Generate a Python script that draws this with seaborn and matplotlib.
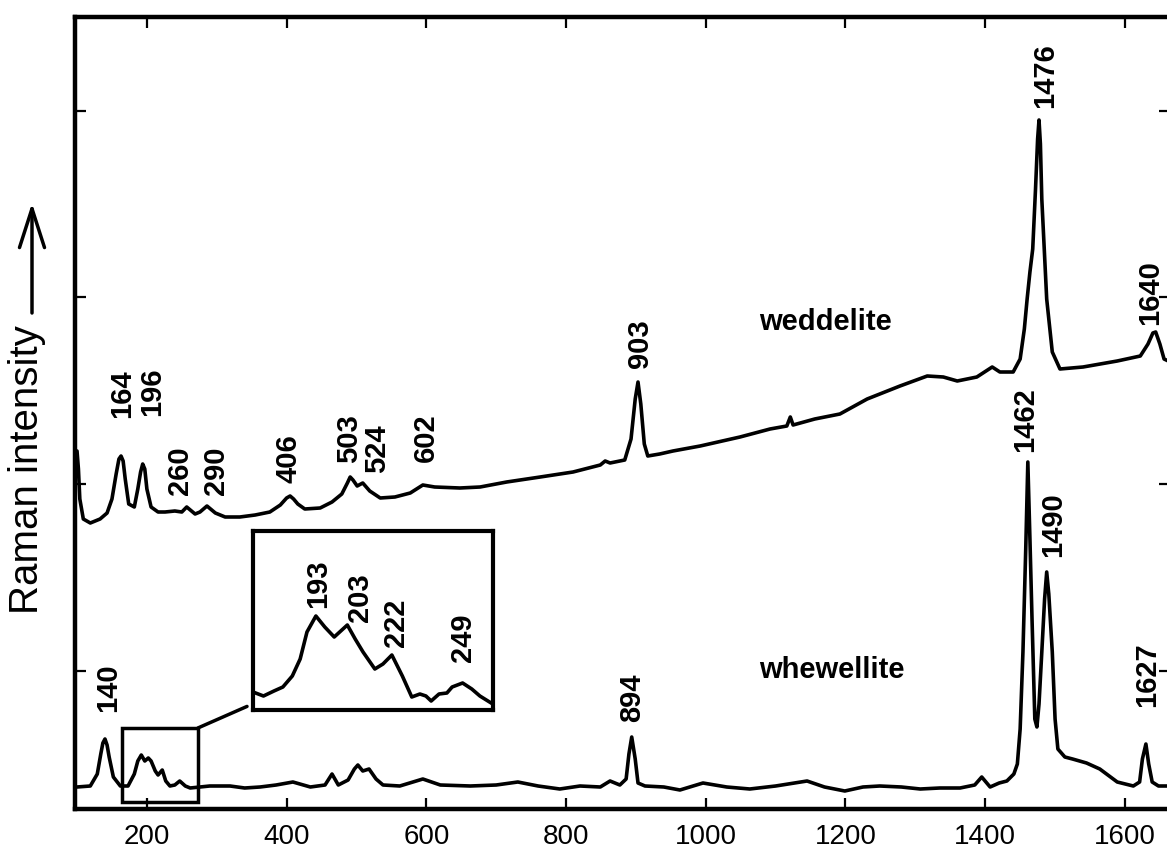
import matplotlib
matplotlib.use("Agg")
import matplotlib.pyplot as plt
import seaborn as sns
import pandas as pd
from matplotlib.patches import Rectangle, ConnectionPatch

# ---------------- data ----------------
wed_wn = [100, 102, 104, 109, 119, 133, 143, 150, 156, 160, 163, 166, 169, 174, 182, 187,
          191, 194, 197, 200, 206, 216, 226, 240, 250, 257, 269, 276, 286, 298, 312, 333,
          355, 376, 391, 400, 405, 410, 416, 426, 448, 465, 479, 487, 491, 495, 501, 509,
          519, 534, 555, 577, 595, 612, 648, 677, 715, 763, 810, 849, 856, 863, 884, 893,
          899, 903, 907, 912, 917, 934, 953, 992, 1049, 1092, 1116, 1121, 1125, 1156, 1192,
          1231, 1278, 1317, 1340, 1360, 1388, 1410, 1421, 1440, 1450, 1456, 1460, 1464,
          1468, 1472, 1475, 1477, 1479, 1481, 1488, 1496, 1507, 1540, 1589, 1622, 1633,
          1640, 1644, 1650, 1656, 1665]
wed_int = [358, 340, 310, 290, 286, 290, 296, 310, 335, 350, 353, 348, 330, 305, 302, 320,
           337, 345, 340, 320, 302, 297, 297, 298, 297, 302, 295, 297, 303, 296, 292, 292,
           294, 297, 304, 311, 313, 310, 305, 300, 301, 307, 315, 326, 332, 329, 323, 326,
           318, 311, 312, 316, 324, 322, 321, 322, 327, 332, 337, 344, 348, 346, 349, 370,
           410, 427, 405, 365, 353, 355, 358, 363, 372, 380, 383, 392, 384, 390, 395,
           410, 423, 433, 432, 428, 432, 442, 437, 437, 450, 480, 510, 537,
           560, 620, 670, 689, 665, 610, 510, 457, 440, 442, 448, 453, 465,
           476, 477, 465, 450, 447]

whe_wn = [100, 119, 129, 134, 137, 140, 143, 146, 152, 162, 173, 182, 187, 192, 197, 202,
          206, 212, 216, 222, 227, 233, 240, 247, 255, 262, 290, 319, 340, 362, 385, 409,
          434, 455, 465, 474, 488, 497, 502, 509, 518, 528, 538, 562, 595, 620, 663, 700,
          731, 760, 791, 820, 849, 863, 877, 886, 890, 894, 899, 903, 913, 940, 963, 996,
          1030, 1063, 1100, 1145, 1170, 1199, 1225, 1249, 1280, 1307, 1335, 1364, 1385,
          1395, 1407, 1420, 1431, 1441, 1446, 1450, 1454, 1458, 1461, 1464, 1467, 1471,
          1474, 1477, 1481, 1485, 1488, 1491, 1496, 1500, 1504, 1514, 1525, 1545, 1564,
          1589, 1612, 1621, 1625, 1630, 1634, 1639, 1648, 1665]
whe_int = [22, 23, 35, 55, 66, 70, 64, 52, 32, 23, 23, 35, 48, 54, 48, 51,
           48, 38, 34, 39, 28, 23, 24, 28, 23, 21, 23, 23, 21, 22, 24, 27,
           22, 24, 35, 24, 29, 40, 44, 38, 40, 30, 24, 23, 30, 24, 23, 24,
           27, 23, 20, 23, 22, 28, 24, 30, 55, 72, 50, 26, 23, 22, 19, 26,
           22, 20, 23, 28, 22, 18, 22, 23, 22, 20, 21, 21, 24,
           32, 22, 26, 28, 35, 45, 80, 157, 260, 347, 270, 190, 90,
           82, 105, 157, 210, 237, 215, 157, 90, 60, 52, 50, 46, 40,
           27, 23, 27, 50, 65, 45, 27, 23, 23]

# inset (zoom of whewellite 170-260 cm-1)
ins_wn = [169, 173, 177, 180.4, 184, 187, 189.6, 193, 196.4, 200, 205, 208, 211, 215.5,
          218.6, 222, 226, 229.6, 232.7, 235, 237, 240, 243, 245, 249, 252.5, 255.6, 260.5]
ins_int = [18, 14, 19, 23, 34, 51, 78, 94, 83, 73, 85, 71, 58, 41,
           46, 55, 34, 13, 16, 14, 9, 16, 17, 23, 27, 21, 14, 6]

wed_labels = ["164", "196", "260", "290", "406", "503", "524", "602", "903", "1476", "1640"]
wed_label_x = [164, 207, 247, 299, 402, 490, 529, 600, 906, 1486, 1636]
wed_label_y = [392, 394, 315, 315, 327, 347, 337, 348, 442, 702, 485]

whe_labels = ["140", "894", "1462", "1490", "1627"]
whe_label_x = [144, 894, 1457, 1497, 1632]
whe_label_y = [98, 88, 358, 253, 103]

ins_labels = ["193", "203", "222", "249"]
ins_label_x = [193.8, 210, 223.5, 249]
ins_label_y = [103, 89, 64, 49]

x_ticks = [200, 400, 600, 800, 1000, 1200, 1400, 1600]
y_ticks = [138, 325, 512, 698]

zoom_x = (164, 273)
zoom_y = (7, 81)

# ---------------- style ----------------
sns.set_style("ticks")
plt.rcParams["font.family"] = ["Liberation Sans", "DejaVu Sans"]
plt.rcParams["text.color"] = "black"
plt.rcParams["axes.labelcolor"] = "black"
plt.rcParams["xtick.color"] = "black"
plt.rcParams["ytick.color"] = "black"

W, H = 1167, 853
fig = plt.figure(figsize=(W / 100, H / 100), dpi=100)
ax = fig.add_axes([75 / W, 43 / H, 1095 / W, 792 / H])

wed = pd.DataFrame({"wn": wed_wn, "I": wed_int})
whe = pd.DataFrame({"wn": whe_wn, "I": whe_int})
sns.lineplot(data=wed, x="wn", y="I", ax=ax, color="black", lw=2.6, estimator=None, sort=False)
sns.lineplot(data=whe, x="wn", y="I", ax=ax, color="black", lw=2.6, estimator=None, sort=False)

ax.set_xlim(97.1, 1664.5)
ax.set_ylim(0, 792)
ax.set_xticks(x_ticks)
ax.set_yticks(y_ticks)
ax.set_yticklabels([])
ax.set_xlabel("")
ax.set_ylabel("")
ax.tick_params(direction="in", length=8, width=1.6, top=True, right=True,
               labelsize=20, pad=10, colors="black", labelcolor="black")
for sp in ax.spines.values():
    sp.set_linewidth(3.2)
    sp.set_color("black")

lab_kw = dict(rotation=90, ha="center", va="bottom", fontsize=21, fontweight="bold",
              color="black")
for t, x, y in zip(wed_labels, wed_label_x, wed_label_y):
    ax.text(x, y, t, **lab_kw)
for t, x, y in zip(whe_labels, whe_label_x, whe_label_y):
    ax.text(x, y, t, **lab_kw)

ax.text(1172, 488, "weddelite", ha="center", va="center", fontsize=21, fontweight="bold",
        color="black")
ax.text(1181, 140, "whewellite", ha="center", va="center", fontsize=21, fontweight="bold",
        color="black")

# zoom box in main axes
ax.add_patch(Rectangle((zoom_x[0], zoom_y[0]), zoom_x[1] - zoom_x[0], zoom_y[1] - zoom_y[0],
                       fill=False, lw=2.5, ec="black", zorder=3))

# inset
ins = fig.add_axes([253 / W, 1 - 711 / H, 240 / W, 179 / H])
insd = pd.DataFrame({"wn": ins_wn, "I": ins_int})
sns.lineplot(data=insd, x="wn", y="I", ax=ins, color="black", lw=2.6, estimator=None, sort=False)
ins.set_xlim(169, 260.6)
ins.set_ylim(0, 179)
ins.set_xticks([])
ins.set_yticks([])
ins.set_xlabel("")
ins.set_ylabel("")
for sp in ins.spines.values():
    sp.set_linewidth(3)
    sp.set_color("black")
for t, x, y in zip(ins_labels, ins_label_x, ins_label_y):
    ins.text(x, y, t, **lab_kw)

con = ConnectionPatch(xyA=(zoom_x[1], zoom_y[1]), coordsA=ax.transData,
                      xyB=(-0.025, 0.02), coordsB=ins.transAxes,
                      color="black", lw=2.5)
fig.add_artist(con)

# y label with arrow
fig.text(27 / W, 1 - 470 / H, "Raman intensity", rotation=90, ha="center", va="center",
         fontsize=29, color="black")
ax.annotate("", xy=(32 / W, 1 - 204 / H), xytext=(32 / W, 1 - 314 / H),
            xycoords="figure fraction", textcoords="figure fraction",
            arrowprops=dict(arrowstyle="->,head_length=1.4,head_width=0.45",
                            lw=2.5, color="black", mutation_scale=20,
                            shrinkA=0, shrinkB=0))

fig.savefig("out.png", dpi=100, facecolor="white")
